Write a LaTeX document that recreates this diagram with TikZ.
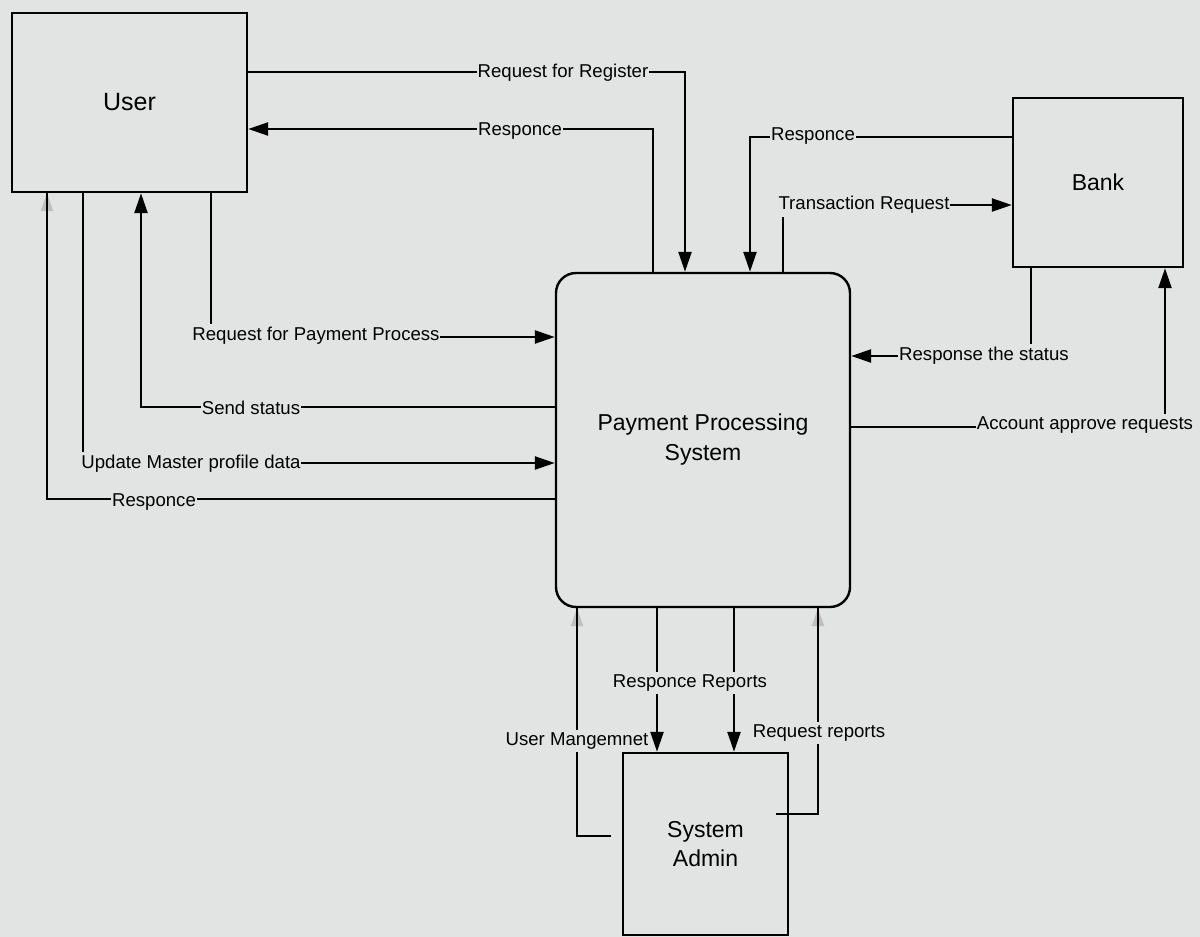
\documentclass[tikz,border=0pt]{standalone}
\usepackage{fontspec}
\setmainfont{Liberation Sans}
\usetikzlibrary{arrows.meta}
\definecolor{paper}{RGB}{226,228,228}
\begin{document}
\begin{tikzpicture}[x=0.5pt,y=-0.5pt,
  entity/.style={draw,line width=1.2pt,fill=paper,inner sep=0pt,align=center,
    font=\fontsize{11.5}{15}\selectfont},
  process/.style={entity,rounded corners=10pt},
  flow/.style={line width=1.2pt,-{Triangle[length=10pt,width=6.5pt]}},
  faint/.style={line width=1.2pt,-{Triangle[length=9pt,width=6pt,color=black!25]},
    postaction={draw,line width=1.2pt,arrows=-}},
  lbl/.style={fill=paper,inner xsep=0.4pt,inner ysep=1.5pt,font=\fontsize{9.3}{11}\selectfont}
]
% sheet
\fill[paper] (0,0) rectangle (1200,937);
\useasboundingbox (0,0) rectangle (1200,937);

% external entities and the process
\node[entity,minimum width=117.5pt,minimum height=89.5pt,font=\fontsize{12.5}{15}\selectfont]
  (user) at (129.5,102.5) {User};
\node[process,minimum width=147pt,minimum height=167pt] (pps) at (703,440)
  {Payment Processing\\System};
\node[entity,minimum width=85pt,minimum height=84.5pt] (bank) at (1098,182.5) {Bank};
\node[entity,minimum width=82.5pt,minimum height=91pt,font=\fontsize{11.5}{14.5}\selectfont]
  (admin) at (705.5,844) {System\\Admin};

% user <-> process, top side
\draw[flow] (user.east |- 0,72) -| (pps.north -| 685,0);
\node[lbl] (l1) at (563,73) {Request for Register};
\draw[flow] (pps.north -| 653,0) |- (user.east |- 0,129);
\node[lbl] (l2) at (520,131) {Responce};

% bank <-> process
\draw[flow] (bank.west |- 0,137) -| (pps.north -| 750,0);
\node[lbl] (l3) at (813,136) {Responce};
\draw[flow] (pps.north -| 783,0) |- (bank.west |- 0,205);
\node[lbl] (l4) at (864,205) {Transaction Request};
\draw[flow] (bank.south -| 1031,0) |- (pps.east |- 0,356);
\node[lbl] (l5) at (984,356) {Response the status};
\draw[flow] (pps.east |- 0,427) -| (bank.south -| 1165,0);
\node[lbl] (l6) at (1085,425) {Account approve requests};

% user <-> process, lower flows
\draw[flow] (user.south -| 211,0) |- (pps.west |- 0,337);
\node[lbl] (l7) at (316,336) {Request for Payment Process};
\draw[flow] (pps.west |- 0,407) -| (user.south -| 141,0);
\node[lbl] (l8) at (251,408) {Send status};
\draw[flow] (user.south -| 83,0) |- (pps.west |- 0,463);
\node[lbl] (l9) at (191,464) {Update Master profile data};
\draw[faint] (pps.west |- 0,499) -| (user.south -| 47,0);
\node[lbl] (l10) at (154,502) {Responce};

% system admin <-> process
\draw[faint,shorten <=5.5pt] (admin.west |- 0,836) -| (pps.south -| 577,0);
\node[lbl] (l11) at (577,741) {User Mangemnet};
\draw[flow] (pps.south -| 657,0) -- (admin.north -| 657,0);
\draw[flow] (pps.south -| 734,0) -- (admin.north -| 734,0);
\node[lbl] (l12) at (690,683) {Responce Reports};
\draw[faint,shorten <=-6.5pt] (admin.east |- 0,814) -| (pps.south -| 818,0);
\node[lbl] (l13) at (819,733) {Request reports};
\end{tikzpicture}
\end{document}
